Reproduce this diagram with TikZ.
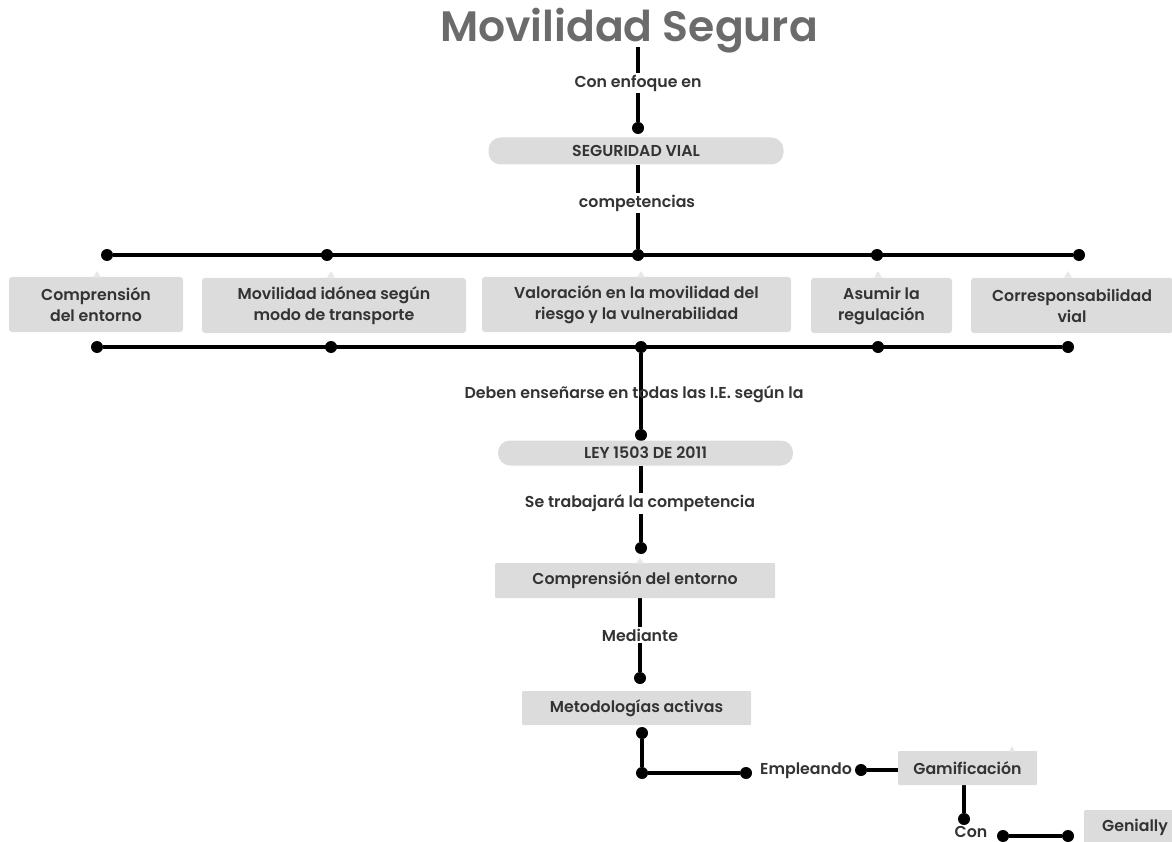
\documentclass[tikz,border=0pt]{standalone}
\usepackage{fontspec}
\setmainfont{Poppins}[BoldFont={Poppins SemiBold}]
\definecolor{boxgray}{HTML}{DCDCDC}
\definecolor{tipgray}{HTML}{E8E8E8}
\definecolor{txt}{HTML}{333333}
\definecolor{ttl}{HTML}{6B6B6B}
\pgfdeclarelayer{bg}
\pgfsetlayers{bg,main}
\begin{document}
\begin{tikzpicture}[x=1pt,y=-1pt,
  conn/.style={line width=3.4pt, black},
  dot/.style={circle, fill=black, inner sep=0pt, minimum size=12pt},
  fnt/.style={font=\bfseries\fontsize{15.8}{19}\selectfont, text=txt},
  box/.style={fnt, fill=boxgray, rounded corners=3pt, align=center, inner sep=0pt},
  pill/.style={box, rounded corners=12pt},
  lbl/.style={fnt, fill=white, inner sep=2pt},
  tip/.style={fill=tipgray, draw=none}
]
\useasboundingbox (0,0) rectangle (1172,842);
% title
\node[font=\bfseries\fontsize{42.5}{50}\selectfont, text=ttl] (title) at (629,31) {Movilidad Segura};
\coordinate (ts) at (638,47);
\node[dot] (d0) at (638,128) {};
\node[pill, minimum width=295pt, minimum height=27pt] (sv) at (636,151) {SEGURIDAD VIAL};
% top bar dots
\node[dot] (t1) at (107,255) {};
\node[dot] (t2) at (327,255) {};
\node[dot] (t3) at (638,255) {};
\node[dot] (t4) at (877,255) {};
\node[dot] (t5) at (1079,255) {};
% competencies
\node[box, minimum width=174pt, minimum height=55pt] (c1) at (96,304.5) {Comprensión\\[2pt]del entorno};
\node[box, minimum width=264pt, minimum height=55pt] (c2) at (334,305.5) {Movilidad idónea según\\[2pt]modo de transporte};
\node[box, minimum width=309pt, minimum height=55pt] (c3) at (636.5,304.5) {Valoración en la movilidad del\\[2pt]riesgo y la vulnerabilidad};
\node[box, minimum width=141pt, minimum height=55pt] (c4) at (881.5,305.5) {Asumir la\\[2pt]regulación};
\node[box, minimum width=202pt, minimum height=55pt] (c5) at (1072,305.5) {Corresponsabilidad\\[2pt]vial};
% bottom bar dots
\node[dot] (b1) at (97,347) {};
\node[dot] (b2) at (331,347) {};
\node[dot] (b3) at (641,347) {};
\node[dot] (b4) at (878,347) {};
\node[dot] (b5) at (1068,347) {};
\node[dot] (d1) at (641,435) {};
\node[pill, minimum width=295pt, minimum height=25pt] (ley) at (645.5,453) {LEY 1503 DE 2011};
\node[dot] (d2) at (641,548) {};
\node[box, minimum width=280pt, minimum height=35pt, rounded corners=1pt] (ce) at (635,580.5) {Comprensión del entorno};
\node[dot] (d3) at (640,678) {};
\node[box, minimum width=229pt, minimum height=34pt, rounded corners=1pt] (ma) at (636.5,708) {Metodologías activas};
\node[dot] (d4) at (642,733) {};
\node[dot] (d5) at (642,773) {};
\node[dot] (d6) at (746,773) {};
\node[fnt, inner sep=1pt] (emp) at (806,771) {Empleando};
\node[dot] (d7) at (861,770) {};
\node[box, minimum width=139pt, minimum height=34pt, rounded corners=1pt] (gam) at (967.5,768) {Gamificación};
\node[dot] (d8) at (964,819) {};
\node[fnt, inner sep=1pt] (con) at (971,832) {Con};
\node[dot] (d9) at (1003,836) {};
\node[dot] (d10) at (1068,836) {};
\node[box, minimum width=110pt, minimum height=40pt, rounded corners=1pt, anchor=north west, text depth=0pt] (gen) at (1084,810) {};
\node[fnt, inner sep=0pt] (genT) at (1135,827) {Genially};
% tips
\foreach \x/\n in {97/c1,331/c2,641/c3,878/c4,1068/c5}{
  \fill[tip] (\x-4,{277.6}) -- (\x,271) -- (\x+4,277.6) -- cycle;
}
\fill[tip] (636,563.5) -- (640,558) -- (644,563.5) -- cycle;
\fill[tip] (1009,751.5) -- (1012,746) -- (1015,751.5) -- cycle;
% connectors
\begin{pgfonlayer}{bg}
\draw[conn] (ts) -- (d0);
\draw[conn] (sv.south -| t3) -- (t3);
\draw[conn] (t1) -- (t5);
\draw[conn] (b1) -- (b5);
\draw[conn] (b3) -- (d1);
\draw[conn] (ley.south -| d2) -- (d2);
\draw[conn] (ce.south -| d3) -- (d3);
\draw[conn] (d4) -- (d5) -- (d6);
\draw[conn] (d7) -- (gam.west |- d7);
\draw[conn] (gam.south -| d8) -- (d8);
\draw[conn] (d9) -- (d10);
\end{pgfonlayer}
% labels on lines
\node[lbl] (l1) at (638,83) {Con enfoque en};
\node[lbl] (l2) at (637,203) {competencias};
\node[fnt, inner sep=1pt] (l3) at (634,394) {Deben enseñarse en todas las I.E. según la};
\node[lbl] (l4) at (640,503) {Se trabajará la competencia};
\node[lbl] (l5) at (640,635) {Mediante};
\end{tikzpicture}
\end{document}
